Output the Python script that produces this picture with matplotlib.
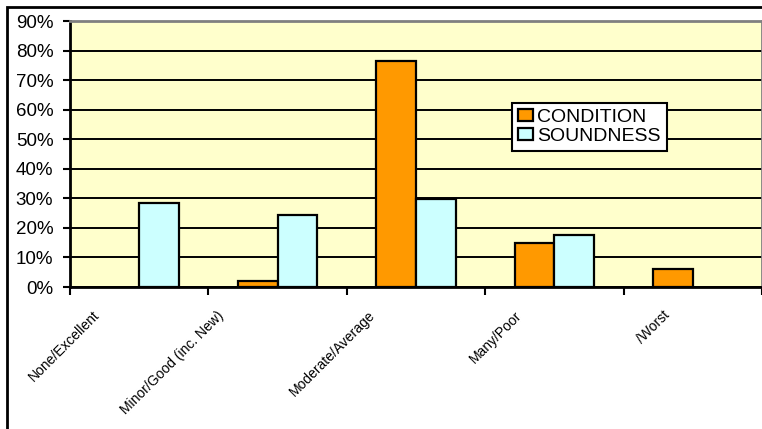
import matplotlib
matplotlib.use("Agg")
import matplotlib.pyplot as plt
from matplotlib.patches import Rectangle
from matplotlib.ticker import FuncFormatter, MultipleLocator
import matplotlib.transforms as mtransforms
import numpy as np

# Survey results (fraction of sample)
categories = [
    "None/Excellent",
    "Minor/Good (inc. New)",
    "Moderate/Average",
    "Many/Poor",
    "/Worst",
]
condition = [0.0, 0.02, 0.765, 0.148, 0.062]
soundness = [0.285, 0.245, 0.297, 0.175, 0.0]

orange = "#FF9900"
cyan = "#CCFFFF"
bg = "#FFFFCC"

plt.rcParams["font.family"] = ["Liberation Sans", "DejaVu Sans"]

fig = plt.figure(figsize=(7.62, 4.29), dpi=100)
ax = fig.add_axes([70 / 762, 1 - 287 / 429, 692 / 762, 266 / 429])
ax.set_facecolor(bg)

x = np.arange(len(categories))
w = 1 / 3.5  # excel gap width 150%

# skip empty bars so no stray edge line shows on the axis
cond_idx = [i for i, v in enumerate(condition) if v > 0]
snd_idx = [i for i, v in enumerate(soundness) if v > 0]
ax.bar(x[cond_idx] - w / 2, [condition[i] for i in cond_idx], w, color=orange,
       edgecolor="black", linewidth=1.6, label="CONDITION", zorder=3)
ax.bar(x[snd_idx] + w / 2, [soundness[i] for i in snd_idx], w, color=cyan,
       edgecolor="black", linewidth=1.6, label="SOUNDNESS", zorder=3)

ax.set_xlim(-0.5, len(categories) - 0.5)
ax.set_ylim(0, 0.9)
ax.yaxis.set_major_locator(MultipleLocator(0.1))
ax.yaxis.set_major_formatter(FuncFormatter(lambda v, p: f"{v * 100:.0f}%"))
ax.grid(axis="y", color="black", linewidth=1.4, zorder=1)
ax.tick_params(axis="y", direction="out", length=5, width=1.5, labelsize=13.5,
               pad=7)

# ticks between categories, labels placed separately
ax.set_xticks(np.arange(-0.5, len(categories), 1.0))
ax.set_xticklabels([])
ax.tick_params(axis="x", direction="out", length=6, width=1.5)

for side in ["top", "right"]:
    ax.spines[side].set_color("#808080")
    ax.spines[side].set_linewidth(2)
for side in ["left", "bottom"]:
    ax.spines[side].set_color("black")
    ax.spines[side].set_linewidth(2)

# rotated category labels, excel nudges them left of the category centre
label_shift = [-0.341, -0.439, -0.348, -0.287, -0.218]
trans = mtransforms.blended_transform_factory(ax.transData, ax.transAxes)
for i, name in enumerate(categories):
    ax.text(i + label_shift[i], -0.08, name, rotation=45,
            rotation_mode="anchor", ha="right", va="top", fontsize=10,
            transform=trans)

leg = ax.legend(loc="upper left", bbox_to_anchor=(0.639, 0.692),
                frameon=True, fancybox=False, framealpha=1, edgecolor="black",
                fontsize=14, handlelength=0.75, handleheight=0.55,
                handletextpad=0.25, borderpad=0.3, labelspacing=0.1,
                borderaxespad=0)
leg.get_frame().set_linewidth(1.5)
leg.set_zorder(5)

# outer chart border
fig.patches.append(Rectangle((7 / 762, -0.1), 1.2, 1 - 7 / 429 + 0.1,
                             transform=fig.transFigure, fill=False,
                             edgecolor="black", linewidth=2))

fig.savefig("out.png", dpi=100)
